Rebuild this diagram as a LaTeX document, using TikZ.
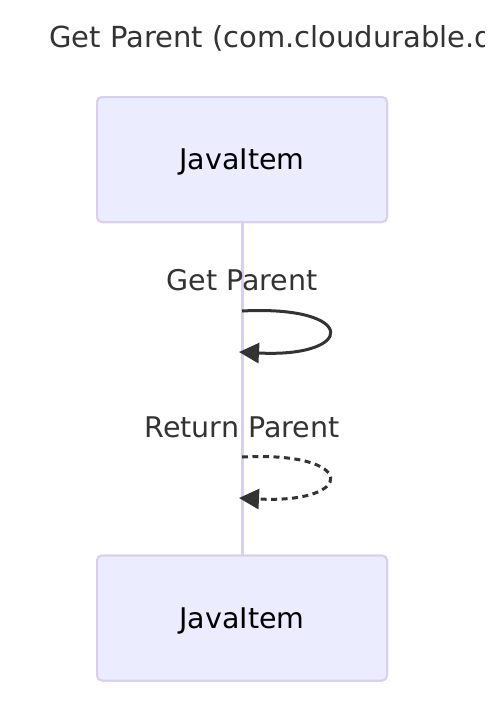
\documentclass[tikz,border=0pt]{standalone}
\usepackage{fontspec}
\setmainfont{DejaVu Sans}
\usetikzlibrary{arrows.meta}
\definecolor{lifec}{HTML}{DACEF3}
\definecolor{boxfill}{HTML}{ECECFF}
\definecolor{ink}{HTML}{333333}
\tikzset{
  actor/.style={draw=lifec, fill=boxfill, line width=2pt, rounded corners=5pt,
    minimum width=290pt, minimum height=125pt, inner sep=0pt,
    text height=20.8pt, text depth=0pt,
    font=\fontsize{28.5}{34}\selectfont, text=black},
  lifeline/.style={draw=lifec, line width=3pt},
  msglabel/.style={anchor=base, font=\fontsize{28.5}{34}\selectfont, text=ink, inner sep=0pt},
  msg/.style={draw=ink, line width=3pt, -{Triangle[length=20pt,width=20pt]}},
  retmsg/.style={msg, dash pattern=on 6pt off 4.5pt}
}
\begin{document}
\begin{tikzpicture}[x=1pt,y=-1pt]
\useasboundingbox (0,0) rectangle (500,726);
\fill[white] (0,0) rectangle (500,726);
\begin{scope}
\clip (0,0) rectangle (484,726);
\node[anchor=base west, inner sep=0pt, text=ink, font=\fontsize{29}{34}\selectfont] (title) at (49,47) {Get Parent (com.cloudurable.d};
\end{scope}
\node[actor] (top) at (242,159.5) {JavaItem};
\node[actor] (bot) at (242,618) {JavaItem};
\draw[lifeline] (top.south) -- (bot.north);
\node[actor] at (top) {JavaItem};
\node[actor] at (bot) {JavaItem};
\node[msglabel] (l1) at (242,290) {Get Parent};
\node[msglabel] (l2) at (242,437) {Return Parent};
\coordinate (a1) at (242,311);
\coordinate (a2) at (239,352);
\coordinate (b1) at (242,457);
\coordinate (b2) at (239,498);
\draw[msg] (a1) .. controls +(117,-6) and +(117,6) .. (a2);
\draw[retmsg] (b1) .. controls +(117,-6) and +(117,6) .. (b2);
\end{tikzpicture}
\end{document}
